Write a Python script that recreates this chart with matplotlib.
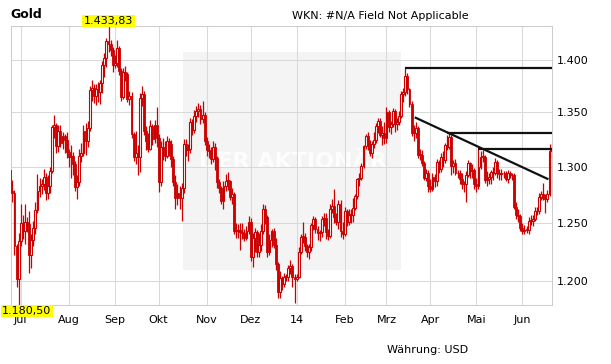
import numpy as np
import pandas as pd
import matplotlib
matplotlib.use("Agg")
import matplotlib.pyplot as plt
import matplotlib.transforms as mtransforms
from matplotlib.patches import Rectangle
from matplotlib.ticker import FixedLocator, FuncFormatter, NullLocator

# Gold in USD, one candle per weekday from 24.06.2013 to 20.06.2014
trade_days = pd.bdate_range("2013-06-24", "2014-06-20")
first_open = 1297.0

close = [
    1278, 1276, 1230, 1202, 1234,
    1250, 1243, 1251, 1249, 1222, 1235, 1246, 1261, 1278, 1283, 1284, 1291, 1276, 1283, 1296, 1336, 1338, 1319, 1333, 1322, 1328, 1324, 1313,
    1309, 1310, 1302, 1282, 1286, 1310, 1312, 1333, 1323, 1335, 1371, 1373, 1366, 1372, 1369, 1378, 1395, 1402, 1419, 1416, 1410, 1395,
    1397, 1412, 1390, 1365, 1389, 1387, 1363, 1366, 1330, 1309, 1312, 1309, 1364, 1367, 1333, 1323, 1316, 1337, 1325, 1338, 1326,
    1286, 1318, 1317, 1310, 1323, 1321, 1307, 1286, 1272, 1276, 1272, 1281, 1321, 1315, 1316, 1341, 1334, 1347, 1351, 1353, 1344, 1348, 1323,
    1315, 1314, 1307, 1318, 1308, 1286, 1281, 1269, 1283, 1287, 1287, 1273, 1275, 1243, 1243, 1244, 1242, 1241, 1237, 1243, 1251,
    1221, 1237, 1242, 1225, 1231, 1243, 1262, 1255, 1225, 1235, 1243, 1231, 1215, 1191, 1203, 1198, 1204, 1204, 1211, 1213, 1204, 1202,
    1204, 1225, 1238, 1238, 1230, 1225, 1229, 1248, 1253, 1245, 1241, 1242, 1253, 1254, 1242, 1239, 1262, 1265, 1255, 1251, 1267, 1243, 1240,
    1260, 1251, 1257, 1257, 1263, 1274, 1289, 1290, 1301, 1319, 1328, 1321, 1312, 1321, 1324, 1337, 1342, 1329, 1331, 1326,
    1350, 1336, 1339, 1351, 1339, 1341, 1347, 1367, 1369, 1385, 1372, 1358, 1331, 1331, 1335, 1311, 1311, 1303, 1290, 1294, 1283,
    1280, 1291, 1287, 1304, 1298, 1309, 1306, 1320, 1318, 1327, 1301, 1303, 1294, 1294, 1289, 1284, 1284, 1292, 1303, 1296, 1297, 1284,
    1283, 1300, 1309, 1309, 1288, 1289, 1291, 1295, 1294, 1304, 1294, 1293, 1294, 1294, 1289, 1294, 1292, 1292, 1264, 1257, 1256, 1246,
    1243, 1244, 1244, 1252, 1252, 1253, 1260, 1260, 1273, 1275, 1272, 1271, 1275, 1314, 1316,
]
high = [
    1300, 1288, 1279, 1232, 1241,
    1267, 1257, 1267, 1255, 1260, 1240, 1252, 1268, 1293, 1290, 1289, 1298, 1294, 1292, 1300, 1338, 1348, 1340, 1338, 1338, 1332, 1330, 1332,
    1316, 1320, 1313, 1305, 1292, 1316, 1322, 1338, 1340, 1342, 1375, 1381, 1377, 1377, 1379, 1381, 1399, 1407, 1422, 1433.83, 1420, 1413,
    1405, 1420, 1414, 1392, 1392, 1394, 1389, 1370, 1369, 1332, 1333, 1320, 1368, 1375, 1370, 1337, 1331, 1343, 1339, 1343, 1355,
    1330, 1323, 1326, 1323, 1328, 1326, 1324, 1310, 1292, 1284, 1283, 1285, 1325, 1325, 1321, 1345, 1344, 1352, 1356, 1359, 1357, 1361, 1350,
    1327, 1321, 1318, 1323, 1322, 1310, 1289, 1283, 1287, 1293, 1295, 1288, 1281, 1277, 1250, 1249, 1250, 1250, 1245, 1247, 1256,
    1254, 1241, 1246, 1244, 1241, 1249, 1267, 1266, 1257, 1240, 1245, 1246, 1237, 1216, 1209, 1205, 1207, 1206, 1214, 1218, 1215, 1206,
    1206, 1229, 1240, 1251, 1241, 1232, 1232, 1250, 1256, 1255, 1247, 1244, 1256, 1259, 1259, 1245, 1267, 1271, 1280, 1259, 1270, 1270, 1251,
    1264, 1262, 1262, 1262, 1272, 1275, 1290, 1294, 1303, 1320, 1330, 1332, 1324, 1323, 1332, 1340, 1345, 1345, 1337, 1341,
    1355, 1352, 1342, 1354, 1353, 1345, 1351, 1370, 1373, 1392, 1388, 1373, 1361, 1338, 1341, 1337, 1316, 1315, 1305, 1298, 1297,
    1289, 1294, 1293, 1307, 1306, 1312, 1314, 1322, 1329, 1331, 1329, 1306, 1307, 1297, 1297, 1294, 1287, 1296, 1306, 1304, 1302, 1299,
    1290, 1316, 1314, 1315, 1311, 1296, 1294, 1297, 1300, 1308, 1306, 1298, 1298, 1296, 1296, 1297, 1296, 1294, 1294, 1268, 1262, 1258,
    1250, 1248, 1247, 1255, 1257, 1257, 1264, 1264, 1276, 1278, 1285, 1275, 1279, 1321, 1322,
]
low = [
    1270, 1268, 1222, 1195, 1180.5,
    1230, 1236, 1232, 1242, 1207, 1211, 1230, 1240, 1259, 1273, 1275, 1279, 1270, 1271, 1276, 1294, 1326, 1312, 1313, 1318, 1316, 1312, 1308,
    1300, 1290, 1292, 1278, 1271, 1283, 1304, 1310, 1311, 1318, 1333, 1361, 1359, 1357, 1360, 1358, 1368, 1384, 1393, 1408, 1404, 1389,
    1392, 1393, 1386, 1361, 1363, 1380, 1360, 1357, 1326, 1305, 1302, 1292, 1295, 1356, 1329, 1315, 1313, 1315, 1320, 1322, 1318,
    1277, 1283, 1306, 1305, 1308, 1310, 1300, 1283, 1262, 1266, 1262, 1252, 1276, 1310, 1305, 1312, 1329, 1331, 1341, 1346, 1339, 1340, 1320,
    1310, 1308, 1302, 1304, 1297, 1281, 1276, 1267, 1262, 1278, 1279, 1270, 1267, 1240, 1237, 1237, 1227, 1236, 1234, 1235, 1240,
    1217, 1212, 1225, 1221, 1221, 1226, 1240, 1249, 1221, 1222, 1229, 1228, 1210, 1186, 1186, 1193, 1195, 1200, 1200, 1206, 1195, 1182,
    1200, 1203, 1223, 1233, 1226, 1221, 1219, 1226, 1244, 1241, 1235, 1234, 1238, 1247, 1236, 1235, 1237, 1259, 1250, 1248, 1245, 1238, 1236,
    1239, 1247, 1248, 1250, 1251, 1261, 1271, 1283, 1288, 1299, 1316, 1315, 1310, 1308, 1317, 1322, 1331, 1327, 1320, 1321,
    1322, 1332, 1330, 1336, 1332, 1334, 1338, 1345, 1360, 1366, 1367, 1355, 1328, 1323, 1326, 1308, 1306, 1301, 1288, 1287, 1277,
    1277, 1278, 1282, 1283, 1294, 1295, 1300, 1303, 1315, 1316, 1292, 1294, 1292, 1290, 1284, 1280, 1277, 1268, 1291, 1290, 1290, 1280,
    1277, 1280, 1298, 1304, 1285, 1283, 1284, 1284, 1288, 1292, 1290, 1288, 1288, 1290, 1287, 1285, 1290, 1288, 1262, 1253, 1251, 1243,
    1240, 1240, 1241, 1240, 1248, 1247, 1252, 1257, 1258, 1270, 1270, 1259, 1268, 1274, 1309,
]

month_labels = ["Jul", "Aug", "Sep", "Okt", "Nov", "Dez", "14", "Feb", "Mrz", "Apr", "Mai", "Jun"]
price_ticks = [1200, 1250, 1300, 1350, 1400]

# drawn resistance lines and downtrend line
level_prices = [1392, 1331, 1316]
level_starts = ["2014-03-14", "2014-04-11", "2014-05-02"]
trend_dates = ["2014-03-21", "2014-06-18"]
trend_prices = [1345, 1289]

RED = "#cc0000"


def german(v, dec=0):
    s = f"{v:,.{dec}f}"
    return s.replace(",", "X").replace(".", ",").replace("X", ".")


x = np.arange(len(trade_days))
c = np.array(close, float)
h = np.array(high, float)
l = np.array(low, float)
o = np.r_[first_open, c[:-1]]
up = c >= o
body = np.maximum(np.abs(c - o), 0.6)
bottom = np.minimum(o, c)

fig = plt.figure(figsize=(6.11, 3.64), dpi=100)
ax = fig.add_axes([10.5 / 611, 59 / 364, 541.1 / 611, 279 / 364])
ax.set_yscale("log")

# light box with watermark behind the data
ax.add_patch(Rectangle((0.3188, 0.1254), 0.4029, 0.7814, transform=ax.transAxes,
                       facecolor="#f4f4f4", edgecolor="none", zorder=0))
ax.text(0.521, 0.5125, "DER AKTIONÄR", transform=ax.transAxes, color="#fdfdfd",
        fontsize=16, fontweight="bold", ha="center", va="center", zorder=0.2)

ax.vlines(x, l, h, color=RED, lw=0.9, zorder=2)
ax.bar(x[up], body[up], 0.9, bottom=bottom[up], facecolor="white",
       edgecolor=RED, lw=0.8, zorder=3)
ax.bar(x[~up], body[~up], 0.9, bottom=bottom[~up], facecolor=RED,
       edgecolor=RED, lw=0.6, zorder=3)

last = len(trade_days) - 1
for price, start in zip(level_prices, level_starts):
    i0 = trade_days.get_loc(pd.Timestamp(start))
    ax.plot([i0, last], [price, price], color="#111111", lw=1.6, zorder=4,
            solid_capstyle="butt")
t0 = trade_days.get_loc(pd.Timestamp(trend_dates[0]))
t1 = trade_days.get_loc(pd.Timestamp(trend_dates[1]))
ax.plot([t0, t1], trend_prices, color="#111111", lw=1.6, zorder=4)

ax.set_xlim(0.1, 259.0)
ax.set_ylim(l.min(), h.max())

month_pos = [i for i in range(1, len(trade_days))
             if trade_days[i].month != trade_days[i - 1].month]
ax.set_xticks(month_pos)
ax.set_xticklabels(month_labels)
ax.yaxis.set_major_locator(FixedLocator(price_ticks))
ax.yaxis.set_minor_locator(NullLocator())
ax.yaxis.set_major_formatter(FuncFormatter(lambda v, p: german(v)))
ax.yaxis.tick_right()
ax.tick_params(axis="both", length=0, labelsize=8, colors="black")
ax.tick_params(axis="x", pad=7)
ax.tick_params(axis="y", pad=4)

ax.set_axisbelow(True)
ax.grid(True, color="#d9d9d9", lw=0.75)
for sp in ax.spines.values():
    sp.set_color("#cccccc")
    sp.set_linewidth(0.75)

# high / low markers
i_hi = int(np.argmax(h))
trans = mtransforms.blended_transform_factory(ax.transData, ax.transAxes)
ax.text(i_hi, 1.0, german(h.max(), 2), transform=trans, ha="center", va="bottom",
        fontsize=8, bbox=dict(facecolor="#ffff00", edgecolor="none", pad=1.0),
        clip_on=False)
fig.text(2 / 611, 1 - 311 / 364, german(l.min(), 2), ha="left", va="center",
         fontsize=8, bbox=dict(facecolor="#ffff00", edgecolor="none", pad=1.0))

fig.text(10 / 611, 1 - 14 / 364, "Gold", fontsize=9, fontweight="bold",
         ha="left", va="center")
fig.text(292 / 611, 1 - 16 / 364, "WKN: #N/A Field Not Applicable",
         fontsize=8, ha="left", va="center")
fig.text(387 / 611, 1 - 350 / 364, "Währung: USD", fontsize=8,
         ha="left", va="center")

fig.savefig("out.png", dpi=100)
